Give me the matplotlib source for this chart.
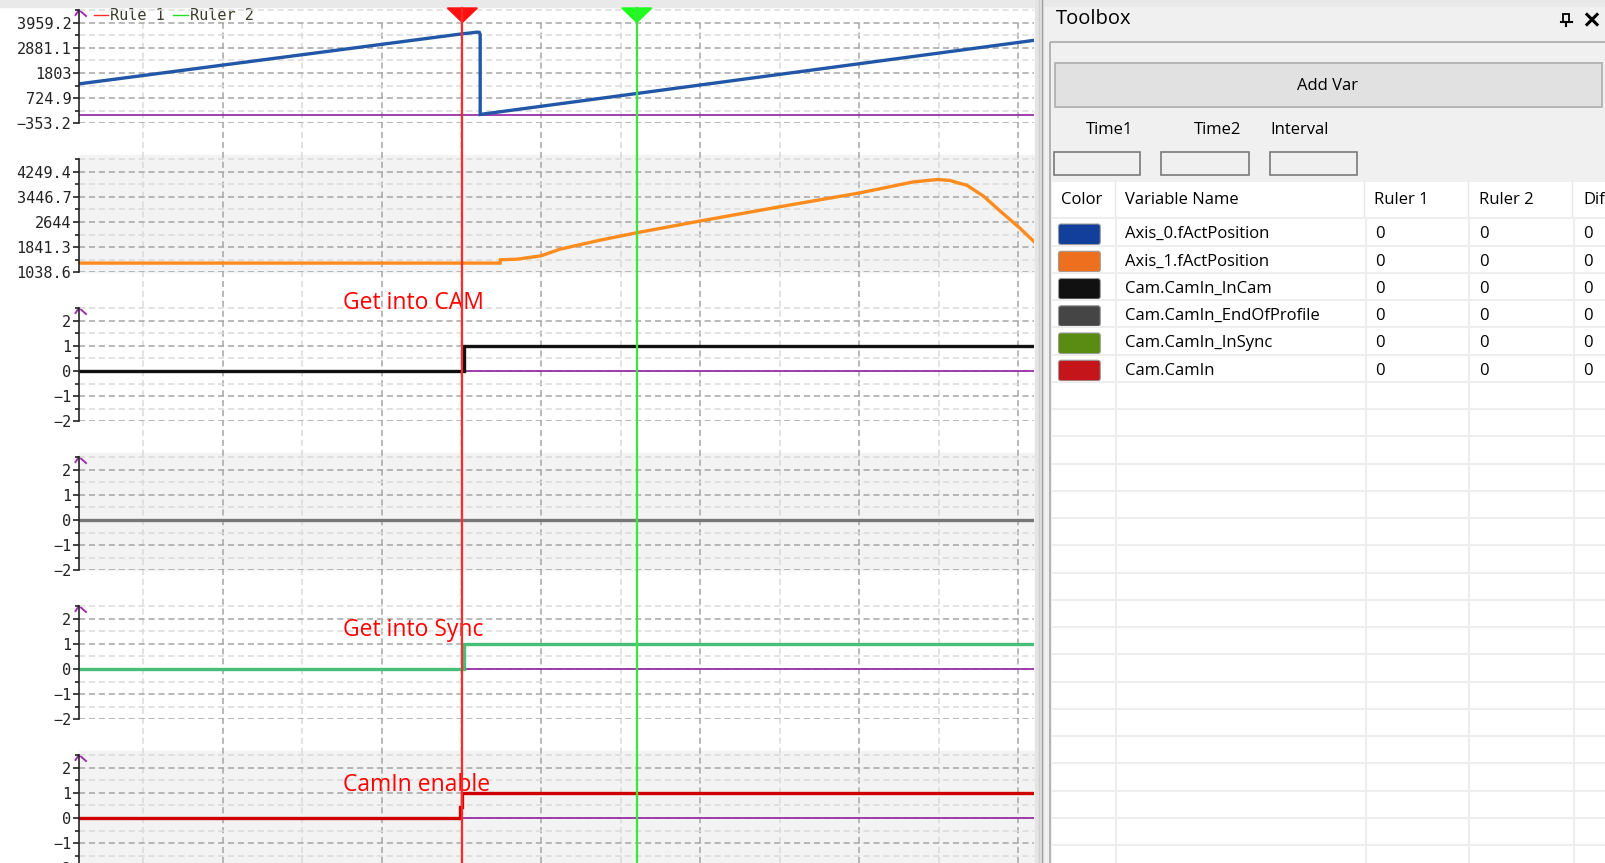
import matplotlib
matplotlib.use("Agg")
import matplotlib.pyplot as plt
from matplotlib.patches import Rectangle, Polygon, FancyBboxPatch
from matplotlib.ticker import FixedLocator, FixedFormatter

W, H = 1606, 863

# ---- trace data, x in grid divisions ----
axis0_t = [0.195, 5.01, 5.20, 5.225, 5.236, 5.236, 12.195]
axis0_v = [1338, 3479, 3550, 3540, 3450, 30, 3200]

axis1_t = [0.195, 5.486, 5.49, 5.70, 6.00, 6.24, 6.74, 7.21, 8.00, 9.00, 10.01,
           10.68, 10.89, 10.99, 11.14, 11.24, 11.35, 11.56, 11.77, 12.02, 12.195]
axis1_v = [1335, 1335, 1440, 1460, 1566, 1779, 2064, 2305, 2676, 3129, 3573,
           3922, 3975, 3998, 3966, 3890, 3817, 3468, 2993, 2444, 2020]

incam_t = [0.195, 5.027, 5.027, 12.195]
incam_v = [0, 0, 1, 1]
endprof_t = [0.195, 12.195]
endprof_v = [0, 0]
insync_t = [0.195, 5.037, 5.037, 12.195]
insync_v = [0, 0, 1, 1]
camin_t = [0.195, 4.985, 4.985, 5.012, 5.012, 12.195]
camin_v = [0, 0, 0.45, 0.45, 1, 1]

ruler1 = 5.012
ruler2 = 7.204

ticks_p1 = [-353.2, 724.9, 1803, 2881.1, 3959.2]
labels_p1 = ["\u2212353.2", "724.9", "1803", "2881.1", "3959.2"]
ticks_p2 = [1038.6, 1841.3, 2644, 3446.7, 4249.4]
labels_p2 = ["1038.6", "1841.3", "2644", "3446.7", "4249.4"]
ticks_bool = [-2, -1, 0, 1, 2]
labels_bool = ["\u22122", "\u22121", "0", "1", "2"]

var_names = ["Axis_0.fActPosition", "Axis_1.fActPosition", "Cam.CamIn_InCam",
             "Cam.CamIn_EndOfProfile", "Cam.CamIn_InSync", "Cam.CamIn"]
var_colors = ["#123f9c", "#ee6f1d", "#111111", "#454545", "#5a8c12", "#c4151b"]
ruler1_vals = [0, 0, 0, 0, 0, 0]
ruler2_vals = [0, 0, 0, 0, 0, 0]
diff_vals = [0, 0, 0, 0, 0, 0]

T0, T1 = 0.195, 12.195
PX0, PX1 = 79, 1034
STEP_PX = 25.2
PURPLE = "#9b30a8"

fig = plt.figure(figsize=(W / 100, H / 100), dpi=100)


def box(x0, y0, x1, y1):
    return [x0 / W, 1 - y1 / H, (x1 - x0) / W, (y1 - y0) / H]


# chrome layer in pixel coords
bg = fig.add_axes([0, 0, 1, 1], zorder=0)
bg.set_xlim(0, W)
bg.set_ylim(H, 0)
bg.axis("off")
bg.add_patch(Rectangle((0, 0), W, 7, color="#e9e9e9"))

# vertical grid
grid_ax = fig.add_axes(box(PX0, 22.6, PX1, H), zorder=1)
grid_ax.set_xlim(T0, T1)
grid_ax.set_facecolor("none")
grid_ax.axis("off")
for k in range(1, 13):
    c = "#a6a6a6" if k % 2 == 0 else "#dadada"
    grid_ax.axvline(k, color=c, ls=(0, (4, 2.5)), lw=1.1)

panels = [
    (axis0_t, axis0_v, "#2157a6", ticks_p1, labels_p1),
    (axis1_t, axis1_v, "#fd8b1e", ticks_p2, labels_p2),
    (incam_t, incam_v, "#111111", ticks_bool, labels_bool),
    (endprof_t, endprof_v, "#777777", ticks_bool, labels_bool),
    (insync_t, insync_v, "#45bf7a", ticks_bool, labels_bool),
    (camin_t, camin_v, "#d00000", ticks_bool, labels_bool),
]

axes = []
for i, (tt, vv, col, ticks, labels) in enumerate(panels):
    ytop = 22.6 + 149.0 * i
    ybot = ytop + 4 * STEP_PX
    if i % 2 == 1:
        bg.add_patch(Rectangle((PX0, ytop - 17), PX1 - PX0, ybot - ytop + 17, color="#f3f3f3"))
    ax = fig.add_axes(box(PX0, ytop - 17, PX1, ybot), zorder=2)
    ax.set_facecolor("none")
    ax.set_axisbelow(True)
    step = ticks[1] - ticks[0]
    ax.set_xlim(T0, T1)
    ax.set_ylim(ticks[0], ticks[-1] + step * 17 / STEP_PX)
    for s in ["top", "right", "bottom"]:
        ax.spines[s].set_visible(False)
    ax.spines["left"].set_bounds(ticks[0], ticks[-1] + step * 12.6 / STEP_PX)
    ax.spines["left"].set_color("#222222")
    ax.spines["left"].set_linewidth(1.2)
    ax.set_xticks([])
    ax.yaxis.set_major_locator(FixedLocator(ticks))
    ax.yaxis.set_major_formatter(FixedFormatter(labels))
    ax.yaxis.set_minor_locator(FixedLocator([a + step / 2 for a in ticks[:-1]] + [ticks[-1] + step / 2]))
    ax.tick_params(axis="y", which="major", length=4, width=1.2, color="#222222",
                   pad=1.5, labelsize=11, labelcolor="#222222", labelfontfamily="DejaVu Sans Mono")
    ax.tick_params(axis="y", which="minor", length=3, width=1.2, color="#222222")
    ax.grid(axis="y", which="major", color="#a6a6a6", ls=(0, (4, 2.5)), lw=1.1)
    ax.grid(axis="y", which="minor", color="#dadada", ls=(0, (4, 2.5)), lw=1.1)
    if i != 1:
        ax.axhline(0, color=PURPLE, lw=1.3, zorder=1.5)
        bg.plot([75.5, 79, 86], [ytop - 7.6, ytop - 12.8, ytop - 6.6], color=PURPLE, lw=1.4)
    ax.plot(tt, vv, color=col, lw=2.4, zorder=2, solid_joinstyle="miter")
    axes.append(ax)

txt = dict(color="#ff0000", fontsize=16.5, family="Open Sans", va="baseline", ha="left", clip_on=False)
axes[2].text(3.512, 2.45, "Get into CAM", **txt)
axes[4].text(3.512, 1.31, "Get into Sync", **txt)
axes[5].text(3.512, 1.083, "CamIn enable", **txt)

# rulers
top_ax = fig.add_axes(box(PX0, 0, PX1, H), zorder=3)
top_ax.set_xlim(T0, T1)
top_ax.set_ylim(H, 0)
top_ax.set_facecolor("none")
top_ax.axis("off")
hw = 15 * (T1 - T0) / (PX1 - PX0)
for r, lc, fc in [(ruler1, "#ff2a2a", "#ff1010"), (ruler2, "#3be63b", "#1eff1e")]:
    top_ax.plot([r, r], [8, H], color=lc, lw=1.6)
    top_ax.add_patch(Polygon([(r - hw, 8), (r + hw, 8), (r, 22.5)], closed=True, color=fc))

# legend
bg.plot([94, 108], [15, 15], color="#ff2a2a", lw=1)
bg.text(110, 15, "Rule 1", family="DejaVu Sans Mono", fontsize=11, va="center", color="#3c3c2c")
bg.plot([173, 188], [15, 15], color="#22dd22", lw=1)
bg.text(190, 15, "Ruler 2", family="DejaVu Sans Mono", fontsize=11, va="center", color="#3c3c2c")

# ---- toolbox ----
ui = dict(family="Open Sans", color="#000000")
bg.add_patch(Rectangle((1043, 7), W - 1043, H, color="#f0f0f0"))
bg.add_patch(Rectangle((1035.5, 0), 7.5, H, color="#e4e4e4"))
bg.plot([1038.7, 1038.7], [0, H], color="#cfcfcf", lw=1)
bg.plot([1042.4, 1042.4], [0, H], color="#a0a0a0", lw=1)
bg.text(1055.5, 19, "Toolbox", fontsize=14.5, va="center", ha="left", **ui)

# pin and close icons
bg.add_patch(Rectangle((1563.5, 14.5), 5.5, 7.5, fill=False, ec="#000000", lw=1.3))
bg.plot([1561, 1572], [22, 22], color="#000000", lw=1.5)
bg.plot([1566.2, 1566.2], [22, 26.5], color="#000000", lw=1.5)
bg.plot([1587, 1597], [14.5, 24.5], color="#000000", lw=2.2)
bg.plot([1587, 1597], [24.5, 14.5], color="#000000", lw=2.2)

bg.add_patch(Rectangle((1050, 41.7), 600, 900, fill=False, ec="#a9a9a9", lw=1.2))
bg.add_patch(Rectangle((1055.5, 63.3), 546.5, 43.4, fc="#e1e1e1", ec="#adadad", lw=1.2))
bg.text(1327.5, 85.5, "Add Var", fontsize=12, va="center", ha="center", **ui)

for lab, cx in [("Time1", 1109.7), ("Time2", 1218), ("Interval", 1299.5)]:
    bg.text(cx, 130, lab, fontsize=12, va="center", ha="center", **ui)
for x0, x1 in [(1054.4, 1139.6), (1161, 1248.7), (1270.4, 1357)]:
    bg.add_patch(Rectangle((x0, 152), x1 - x0, 23, fc="#f0f0f0", ec="#7a7a7a", lw=1.2))

# table
bg.add_patch(Rectangle((1052, 181.7), 600, 700, fc="#ffffff", ec="none"))
for x in [1115.3, 1364.5, 1468.4, 1572.3]:
    bg.plot([x, x], [181.7, 218.3], color="#e6e6e6", lw=1)
for lab, x in [("Color", 1061), ("Variable Name", 1125.4), ("Ruler 1", 1374),
               ("Ruler 2", 1479), ("Dif", 1583.5)]:
    bg.text(x, 200, lab, fontsize=12, va="center", ha="left", **ui)

ROW_H = 27.25
y = 218.3
while y < H:
    bg.plot([1052, W], [y, y], color="#ededed", lw=1.5)
    y += ROW_H
for x in [1116.4, 1365.7, 1469.5, 1574.2]:
    bg.plot([x, x], [218.3, H], color="#ededed", lw=1.5)

for i, name in enumerate(var_names):
    yc = 234.3 + ROW_H * i
    bg.add_patch(FancyBboxPatch((1058.5, yc - 10.3), 41.8, 20.6,
                                boxstyle="round,pad=0,rounding_size=2.5",
                                fc=var_colors[i], ec="#9a9a9a", lw=0.8))
    bg.text(1125.4, yc, name, fontsize=12, va="center", ha="left", **ui)
    for x, vals in [(1375, ruler1_vals), (1479.6, ruler2_vals), (1583.5, diff_vals)]:
        bg.text(x, yc, str(vals[i]), fontsize=12, va="center", ha="left", **ui)

fig.savefig("out.png", dpi=100)
